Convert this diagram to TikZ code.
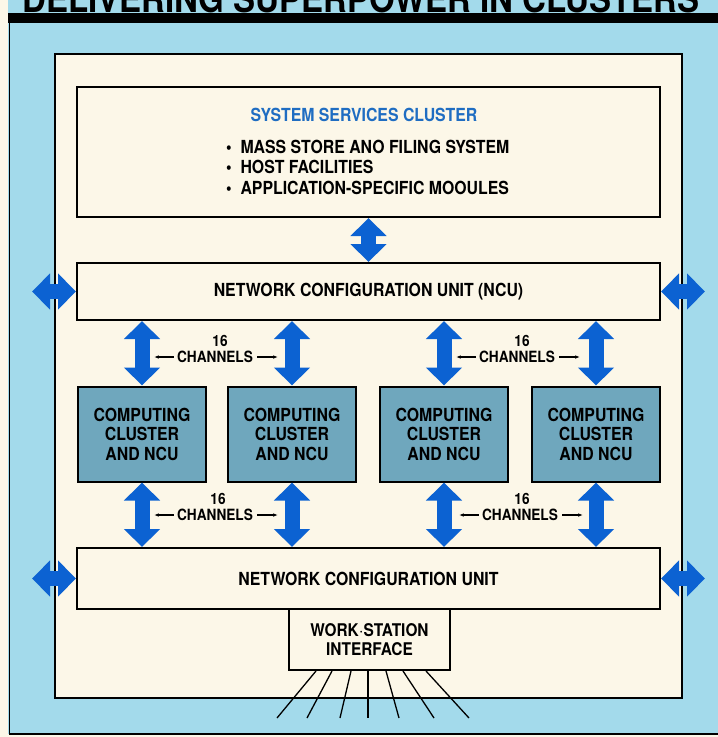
\documentclass[tikz,border=0pt]{standalone}
\usepackage{fontspec}
\setmainfont[FakeStretch=0.88]{TeX Gyre Heros}
\usetikzlibrary{arrows.meta}
\definecolor{cream}{HTML}{FCF7E8}
\definecolor{bgblue}{HTML}{A3DAEB}
\definecolor{ccblue}{HTML}{6FA7BD}
\definecolor{arrblue}{HTML}{0C62D2}
\definecolor{ttlblue}{HTML}{1F6DC2}
\begin{document}
\begin{tikzpicture}[x=1pt,y=-1pt,
  box/.style={draw=black, line width=2pt, fill=cream, inner sep=0pt, align=center,
    font=\bfseries\fontsize{18}{19.5}\selectfont},
  ccbox/.style={box, fill=ccblue, minimum width=128pt, minimum height=95pt},
  bigarrow/.style={line width=15pt, arrblue,
    {Triangle[length=18pt,width=35pt]}-{Triangle[length=18pt,width=35pt]}},
  ptr/.style={line width=1.1pt, -{Latex[length=5pt,width=3.5pt]}},
  lbl/.style={font=\bfseries\fontsize{15.5}{15}\selectfont, inner sep=0pt},
  itm/.style={font=\bfseries\fontsize{18}{19}\selectfont, inner sep=0pt, anchor=base west},
  fan/.style={line width=1.3pt},
]
\useasboundingbox (0,0) rectangle (718,737);
% background
\fill[cream] (0,0) rectangle (718,737);
\fill[bgblue] (8,0) rectangle (718,734);
\begin{scope}
  \clip (8,0) rectangle (718,13);
  \node[font=\bfseries\fontsize{37.5}{37.5}\selectfont, anchor=base, inner sep=0pt]
    (title) at (361,12) {DELIVERING SUPERPOWER IN CLUSTERS};
\end{scope}
\fill[black] (8,13) rectangle (718,23);
\draw[line width=1.5pt] (9.5,23) -- (9.5,734) -- (718,734);
% cream panel
\draw[line width=1.5pt, fill=cream] (55,54) rectangle (682,698);

% system services cluster
\node[box, minimum width=583pt, minimum height=130pt] (ssc) at (368.5,152) {};
\node[font=\bfseries\fontsize{18}{19}\selectfont, text=ttlblue, inner sep=0pt]
  (ssct) at (364,115) {SYSTEM SERVICES CLUSTER};
\node[itm] (b1) at (226,153.5) {\textbullet\ \ MASS STORE ANO FILING SYSTEM};
\node[itm] (b2) at (226,173.5) {\textbullet\ \ HOST FACILITIES};
\node[itm] (b3) at (226,194) {\textbullet\ \ APPLICATION-SPECIFIC MOOULES};

% NCU
\node[box, minimum width=583pt, minimum height=57pt] (ncu) at (368.5,291.5)
  {NETWORK CONFIGURATION UNIT (NCU)};
% computing clusters
\node[ccbox] (cc1) at (142,434) {COMPUTING\\CLUSTER\\AND NCU};
\node[ccbox] (cc2) at (292,434) {COMPUTING\\CLUSTER\\AND NCU};
\node[ccbox] (cc3) at (444,434) {COMPUTING\\CLUSTER\\AND NCU};
\node[ccbox] (cc4) at (596,434) {COMPUTING\\CLUSTER\\AND NCU};
% work station + NCU2
\node[box, font=\bfseries\fontsize{17.5}{19}\selectfont, minimum width=161pt, minimum height=61pt]
  (ws) at (369.5,639.5) {WORK$\cdot$STATION\\INTERFACE};
\node[box, minimum width=583pt, minimum height=61pt] (ncu2) at (368.5,578.5)
  {NETWORK CONFIGURATION UNIT};

% fan lines
\foreach \a/\d in {28/-39, 44/-25, 63/-11, 80/0, 98/13, 115/31, 138/43}
  \draw[fan] ([xshift=\a pt]ws.south west) -- ++(\d,47);

% big arrows
\draw[bigarrow] (ssc.south) -- (ncu.north);
\foreach \c in {cc1,cc2,cc3,cc4}{
  \draw[bigarrow] (\c.north) -- (\c.north |- ncu.south);
  \draw[bigarrow] (\c.south) -- (\c.south |- ncu2.north);
}
\coordinate (la1) at ([xshift=-44pt]ncu.west);
\coordinate (ra1) at ([xshift=44pt]ncu.east);
\coordinate (la2) at ([xshift=-44pt]ncu2.west);
\coordinate (ra2) at ([xshift=44pt]ncu2.east);
\draw[bigarrow] (la1) -- (ncu.west);
\draw[bigarrow] (ncu.east) -- (ra1);
\draw[bigarrow] (la2) -- (ncu2.west);
\draw[bigarrow] (ncu2.east) -- (ra2);

% channel labels
\node[lbl] (s1) at (220,341) {16};
\node[lbl] (ch1) at (215,357) {CHANNELS};
\node[lbl] (s2) at (522,341) {16};
\node[lbl] (ch2) at (517,357) {CHANNELS};
\node[lbl] (s3) at (218,499) {16};
\node[lbl] (ch3) at (215,515) {CHANNELS};
\node[lbl] (s4) at (522,499) {16};
\node[lbl] (ch4) at (520,515) {CHANNELS};
\foreach \n in {ch1,ch2,ch3,ch4}{
  \draw[ptr] ([xshift=-3pt]\n.west) -- ++(-20,0);
  \draw[ptr] ([xshift=4pt]\n.east) -- ++(21,0);
}
\end{tikzpicture}
\end{document}
